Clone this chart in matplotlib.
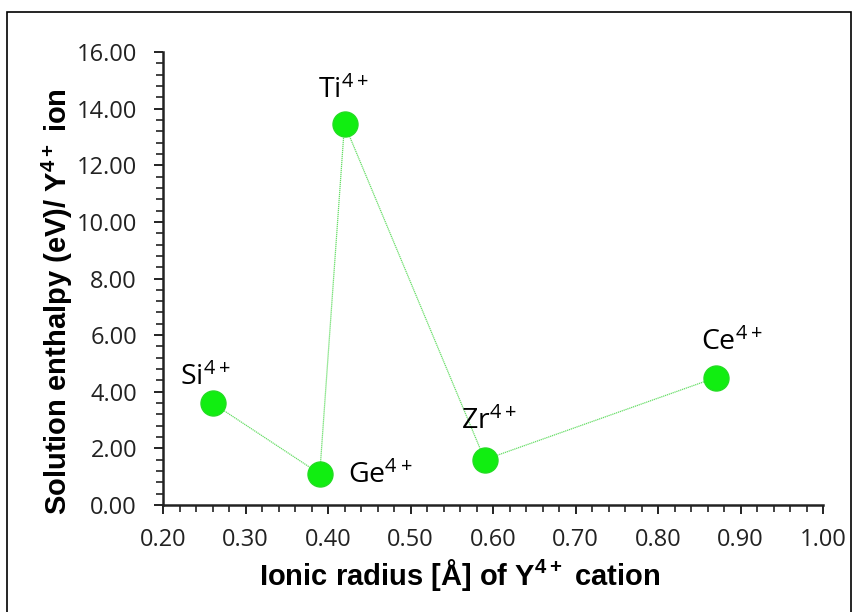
import matplotlib
matplotlib.use("Agg")
import matplotlib.pyplot as plt
from matplotlib.ticker import MultipleLocator, FormatStrFormatter
from matplotlib.patches import Rectangle

plt.rcParams["font.family"] = ["Open Sans", "DejaVu Sans"]
plt.rcParams["mathtext.fontset"] = "custom"
plt.rcParams["mathtext.rm"] = "Open Sans"
plt.rcParams["mathtext.it"] = "Open Sans"
plt.rcParams["mathtext.bf"] = "Liberation Sans:bold"

# data
ions = ["Si", "Ge", "Ti", "Zr", "Ce"]
radius = [0.26, 0.39, 0.42, 0.59, 0.87]
enthalpy = [3.6, 1.1, 13.45, 1.6, 4.5]
# label offsets in points (dx, dy) and alignment
offsets = [(-5, 13), (20, -6.5), (-1, 19), (3, 22), (11.5, 20)]
aligns = ["center", "left", "center", "center", "center"]

W, H = 853, 612
fig = plt.figure(figsize=(W / 100, H / 100), dpi=100)
ax = fig.add_axes([163 / W, 1 - 505 / H, 660 / W, 453 / H])

ax.plot(radius, enthalpy, color="#66dd66", lw=0.9, ls=(0, (1, 0.6)), zorder=1)
ax.plot(radius, enthalpy, ls="none", marker="o", ms=18,
        mfc="#11ee11", mec="#22dd22", zorder=2)

for name, x, y, (dx, dy), ha in zip(ions, radius, enthalpy, offsets, aligns):
    ax.annotate(name + r"$^{4+}$", (x, y), xytext=(dx, dy), textcoords="offset points",
                ha=ha, va="baseline", fontsize=20.5)

ax.set_xlim(0.2, 1.0)
ax.set_ylim(0, 16)
ax.xaxis.set_major_locator(MultipleLocator(0.1))
ax.xaxis.set_minor_locator(MultipleLocator(0.02))
ax.yaxis.set_major_locator(MultipleLocator(2))
ax.yaxis.set_minor_locator(MultipleLocator(0.4))
ax.xaxis.set_major_formatter(FormatStrFormatter("%.2f"))
ax.yaxis.set_major_formatter(FormatStrFormatter("%.2f"))

for s in ["top", "right"]:
    ax.spines[s].set_visible(False)
for s in ["left", "bottom"]:
    ax.spines[s].set_linewidth(1.8)
    ax.spines[s].set_color("#222222")

ax.tick_params(which="major", direction="out", length=6.7, width=1.4, labelsize=17,
               colors="#222222", pad=10)
ax.tick_params(which="minor", direction="out", length=5, width=1.2, colors="#222222")
ax.tick_params(axis="y", which="major", pad=12)

lab = dict(fontsize=21, fontweight="bold", family="Liberation Sans",
           ha="center", va="center")
fig.text(460 / W, 1 - 575 / H, r"Ionic radius [Å] of Y$^{\mathbf{4+}}$ cation", **lab)
fig.text(57 / W, 1 - 302 / H, r"Solution enthalpy (eV)/ Y$^{\mathbf{4+}}$ ion",
         rotation=90, **lab)

# outer frame
fig.patches.append(Rectangle((7 / W, -0.01), 844 / W, 1 - 12 / H + 0.01,
                             transform=fig.transFigure, fill=False,
                             edgecolor="black", lw=1.2))

fig.savefig("out.png", dpi=100)
